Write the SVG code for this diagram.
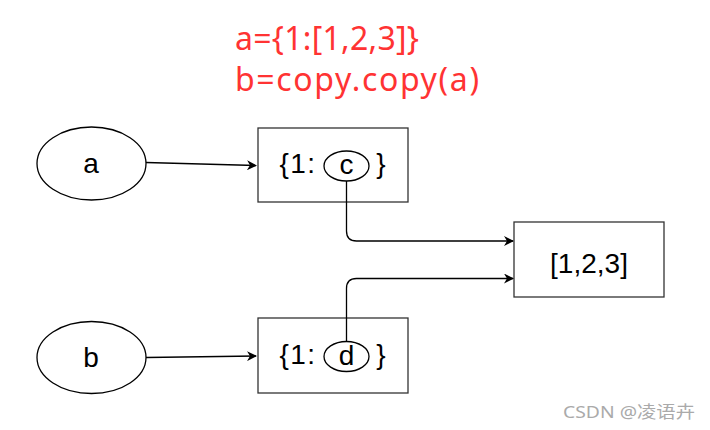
<svg xmlns="http://www.w3.org/2000/svg" width="710" height="430" viewBox="0 0 710 430">
<style>
.shape{fill:#fff;stroke:#000;stroke-width:1.3}
.box{fill:#fff;stroke:#333;stroke-width:1.3}
.lbl{font-family:"Liberation Sans",Arial,sans-serif;font-size:28px;fill:#000;text-anchor:middle}
.edge{fill:none;stroke:#000;stroke-width:1.3}
.code{font-family:"Noto Sans","Open Sans",sans-serif;font-size:32px;fill:#ff3333}
.wm{font-family:"Noto Sans","Noto Sans CJK SC",sans-serif;font-size:17px;fill:#aaa}
</style>
<defs>
<marker id="arr" viewBox="0 0 10 10" refX="9" refY="5" markerWidth="10" markerHeight="10" markerUnits="userSpaceOnUse" orient="auto">
<path d="M0,0 L10,5 L0,10 L3,5 Z" fill="#000"/>
</marker>
</defs>
<g id="code">
<text class="code" x="235" y="50" textLength="184" lengthAdjust="spacing">a={1:[1,2,3]}</text>
<text class="code" x="235" y="91" textLength="244" lengthAdjust="spacing">b=copy.copy(a)</text>
</g>
<g id="node-a">
<ellipse class="shape" cx="91.5" cy="163.5" rx="54.5" ry="36.5"/>
<text class="lbl" x="91" y="173">a</text>
</g>
<g id="node-b">
<ellipse class="shape" cx="91.5" cy="357.5" rx="54.5" ry="36"/>
<text class="lbl" x="91" y="367">b</text>
</g>
<g id="node-dict1">
<rect class="box" x="258" y="128" width="150" height="74"/>
<text class="lbl" x="298" y="173" letter-spacing="1.5">{1:</text>
<text class="lbl" x="381" y="173">}</text>
</g>
<g id="node-dict2">
<rect class="box" x="258" y="318" width="150" height="75"/>
<text class="lbl" x="298" y="364" letter-spacing="1.5">{1:</text>
<text class="lbl" x="381" y="364">}</text>
</g>
<g id="node-list">
<rect class="box" x="514" y="222" width="150" height="75"/>
<text class="lbl" x="589" y="273">[1,2,3]</text>
</g>
<g id="connectors">
<path class="edge" d="M146,162.5 L256,165.5" marker-end="url(#arr)"/>
<path class="edge" d="M146,357.5 L256,356" marker-end="url(#arr)"/>
<path class="edge" d="M346.5,181 L346.5,231 Q346.5,241 356.5,241 L513,241" marker-end="url(#arr)"/>
<path class="edge" d="M346.5,341.5 L346.5,288.5 Q346.5,278.5 356.5,278.5 L513,278.5" marker-end="url(#arr)"/>
</g>
<g id="node-c">
<ellipse class="shape" cx="346.5" cy="166" rx="22.5" ry="15"/>
<text class="lbl" x="346.5" y="174">c</text>
</g>
<g id="node-d">
<ellipse class="shape" cx="346.5" cy="356.5" rx="22.5" ry="15"/>
<text class="lbl" x="346.5" y="365">d</text>
</g>
<g id="watermark">
<text class="wm" x="563" y="418" textLength="132" lengthAdjust="spacingAndGlyphs">CSDN @凌语卉</text>
</g>
</svg>
